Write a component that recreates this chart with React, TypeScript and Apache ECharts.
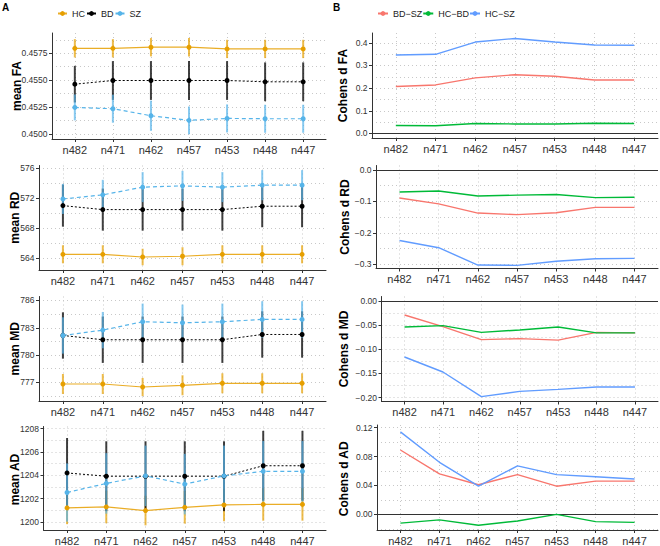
import React, { useEffect, useRef } from 'react';
import * as echarts from 'echarts';

const FONT = '"Liberation Sans", Arial, Helvetica, sans-serif';

const categories = ['n482', 'n471', 'n462', 'n457', 'n453', 'n448', 'n447'];

// ---- Panel A: group means ----
const faHC = [0.45796, 0.45796, 0.45806, 0.45806, 0.4579, 0.4579, 0.4579];
const faBD = [0.45463, 0.45497, 0.45497, 0.45497, 0.45497, 0.45485, 0.45485];
const faSZ = [0.45247, 0.45235, 0.4517, 0.45127, 0.45145, 0.45142, 0.45142];
const faErrHC = [0.00085, 0.00085, 0.00085, 0.00085, 0.00085, 0.00085, 0.00085];
const faErrBD = [0.0017, 0.0018, 0.0018, 0.0018, 0.0018, 0.0018, 0.0018];
const faErrSZ = [0.0012, 0.0013, 0.0014, 0.00128, 0.0013, 0.0013, 0.0013];

const rdHC = [564.53, 564.53, 564.17, 564.27, 564.53, 564.53, 564.53];
const rdBD = [571.01, 570.48, 570.48, 570.48, 570.48, 570.93, 570.93];
const rdSZ = [571.9, 572.44, 573.47, 573.64, 573.47, 573.73, 573.73];
const rdErrHC = [1.2, 1.2, 1.1, 1.2, 1.2, 1.2, 1.2];
const rdErrBD = [2.8, 2.8, 2.8, 2.8, 2.8, 2.8, 2.8];
const rdErrSZ = [2.0, 2.0, 2.0, 2.0, 2.0, 2.0, 2.0];

const mdHC = [776.81, 776.81, 776.48, 776.67, 776.89, 776.89, 776.89];
const mdBD = [782.15, 781.68, 781.68, 781.68, 781.68, 782.26, 782.26];
const mdSZ = [782.15, 782.74, 783.66, 783.55, 783.66, 783.92, 783.92];
const mdErrHC = [1.1, 1.1, 1.0, 1.1, 1.1, 1.1, 1.1];
const mdErrBD = [2.55, 2.55, 2.55, 2.55, 2.55, 2.55, 2.55];
const mdErrSZ = [2.0, 2.0, 2.0, 2.0, 2.0, 2.0, 2.0];

const adHC = [1201.2, 1201.28, 1200.97, 1201.25, 1201.45, 1201.5, 1201.5];
const adBD = [1204.2, 1203.92, 1203.92, 1203.92, 1203.92, 1204.82, 1204.82];
const adSZ = [1202.52, 1203.3, 1203.95, 1203.24, 1203.95, 1204.34, 1204.34];
const adErrHC = [1.4, 1.4, 1.27, 1.4, 1.4, 1.4, 1.4];
const adErrBD = [3.0, 3.0, 3.0, 3.0, 3.0, 3.0, 3.0];
const adErrSZ = [2.5, 2.6, 2.6, 2.6, 2.6, 2.6, 2.6];

// ---- Panel B: Cohen's d ----
const faBDSZ = [0.207, 0.214, 0.245, 0.259, 0.252, 0.236, 0.236];
const faHCBD = [0.035, 0.034, 0.044, 0.042, 0.042, 0.045, 0.044];
const faHCSZ = [0.346, 0.349, 0.403, 0.419, 0.403, 0.39, 0.389];

const rdBDSZ = [-0.089, -0.108, -0.137, -0.142, -0.136, -0.119, -0.119];
const rdHCBD = [-0.07, -0.067, -0.083, -0.08, -0.078, -0.088, -0.087];
const rdHCSZ = [-0.224, -0.247, -0.302, -0.303, -0.29, -0.282, -0.281];

const mdBDSZ = [-0.029, -0.053, -0.08, -0.078, -0.081, -0.065, -0.066];
const mdHCBD = [-0.054, -0.051, -0.065, -0.06, -0.054, -0.066, -0.066];
const mdHCSZ = [-0.116, -0.147, -0.198, -0.187, -0.183, -0.178, -0.178];

const adBDSZ = [0.089, 0.056, 0.041, 0.055, 0.039, 0.046, 0.046];
const adHCBD = [-0.012, -0.0075, -0.015, -0.009, 0.0, -0.01, -0.011];
const adHCSZ = [0.114, 0.072, 0.039, 0.067, 0.055, 0.052, 0.049];

// ---- tick labels ----
const faTicks = [0.45, 0.4525, 0.455, 0.4575];
const faMinor = [0.45125, 0.45375, 0.45625, 0.45875];
const rdTicks = [564, 568, 572, 576];
const rdMinor = [566, 570, 574];
const mdTicks = [777, 780, 783, 786];
const mdMinor = [775.5, 778.5, 781.5, 784.5];
const adTicks = [1200, 1202, 1204, 1206, 1208];
const adMinor = [1201, 1203, 1205, 1207];

const dfaTicks = [0, 0.1, 0.2, 0.3, 0.4];
const dfaMinor = [0.05, 0.15, 0.25, 0.35];
const drdTicks = [-0.3, -0.2, -0.1, 0];
const drdMinor = [-0.25, -0.15, -0.05];
const dmdTicks = [-0.2, -0.15, -0.1, -0.05, 0];
const dmdMinor = [-0.175, -0.125, -0.075, -0.025];
const dadTicks = [0, 0.04, 0.08, 0.12];
const dadMinor = [-0.02, 0.02, 0.06, 0.1];

const groupNames = ['HC', 'BD', 'SZ'];
const groupColors = ['#E69F00', '#000000', '#56B4E9'];
const contrastNames = ['BD\u2212SZ', 'HC\u2212BD', 'HC\u2212SZ'];
const contrastColors = ['#F8766D', '#00BA38', '#619CFF'];

type LeftPanel = {
  title: string; vals: number[][]; errs: number[][];
  min: number; max: number; ticks: number[]; minor: number[]; dec: number;
  left: number; top: number; height: number; titleX: number;
};
type RightPanel = {
  title: string; vals: number[][];
  min: number; max: number; ticks: number[]; minor: number[]; dec: number;
  left: number; top: number; height: number; titleX: number;
};

const leftPanels: LeftPanel[] = [
  { title: 'mean FA', vals: [faHC, faBD, faSZ], errs: [faErrHC, faErrBD, faErrSZ], min: 0.44954, max: 0.45938, ticks: faTicks, minor: faMinor, dec: 4, left: 52, top: 33, height: 106, titleX: 17.3 },
  { title: 'mean RD', vals: [rdHC, rdBD, rdSZ], errs: [rdErrHC, rdErrBD, rdErrSZ], min: 562.44, max: 576.35, ticks: rdTicks, minor: rdMinor, dec: 0, left: 39, top: 165.5, height: 104.5, titleX: 15 },
  { title: 'mean MD', vals: [mdHC, mdBD, mdSZ], errs: [mdErrHC, mdErrBD, mdErrSZ], min: 774.94, max: 786.44, ticks: mdTicks, minor: mdMinor, dec: 0, left: 39, top: 296.5, height: 104.5, titleX: 15 },
  { title: 'mean AD', vals: [adHC, adBD, adSZ], errs: [adErrHC, adErrBD, adErrSZ], min: 1199.3, max: 1208.19, ticks: adTicks, minor: adMinor, dec: 0, left: 43.5, top: 426.5, height: 106, titleX: 15 },
];

const rightPanels: RightPanel[] = [
  { title: 'Cohens d FA', vals: [faBDSZ, faHCBD, faHCSZ], min: -0.02, max: 0.443, ticks: dfaTicks, minor: dfaMinor, dec: 1, left: 372, top: 33, height: 105, titleX: 343 },
  { title: 'Cohens d RD', vals: [rdBDSZ, rdHCBD, rdHCSZ], min: -0.313, max: 0.014, ticks: drdTicks, minor: drdMinor, dec: 1, left: 376, top: 165.5, height: 103, titleX: 344.5 },
  { title: 'Cohens d MD', vals: [mdBDSZ, mdHCBD, mdHCSZ], min: -0.208, max: 0.0092, ticks: dmdTicks, minor: dmdMinor, dec: 2, left: 381.5, top: 296.5, height: 105, titleX: 344 },
  { title: 'Cohens d AD', vals: [adBDSZ, adHCBD, adHCSZ], min: -0.0215, max: 0.1235, ticks: dadTicks, minor: dadMinor, dec: 2, left: 377, top: 425, height: 107.5, titleX: 343.5 },
];

const LEFT_RIGHT_EDGE = 326;
const RIGHT_RIGHT_EDGE = 658;
const idx = categories.map((_, i) => i);

const fmt = (v: number, dec: number) => {
  const s = Math.abs(v) < 1e-12 ? (0).toFixed(dec) : v.toFixed(dec);
  return s.replace('-', '\u2212');
};

function buildOption() {
  const grid: any[] = [];
  const xAxis: any[] = [];
  const yAxis: any[] = [];
  const series: any[] = [];
  const graphic: any[] = [];
  const gridLineStyle = { color: '#c8c8c8', width: 1, type: [1, 3] };

  const all = [
    ...leftPanels.map((p) => ({ ...p, side: 'L' as const })),
    ...rightPanels.map((p) => ({ ...p, side: 'R' as const })),
  ];
  const n = all.length;

  all.forEach((p, i) => {
    const rightEdge = p.side === 'L' ? LEFT_RIGHT_EDGE : RIGHT_RIGHT_EDGE;
    grid.push({ left: p.left, top: p.top, width: rightEdge - p.left, height: p.height });
    xAxis.push({
      type: 'value', gridIndex: i, min: -0.6, max: 6.6,
      axisLine: { show: true, onZero: false, lineStyle: { color: '#333', width: 1 } },
      axisTick: { show: true, length: 3, customValues: idx, lineStyle: { color: '#333' } },
      axisLabel: {
        customValues: idx, formatter: (v: number) => categories[Math.round(v)] ?? '',
        fontSize: 11, color: '#333', margin: 5, fontFamily: FONT,
      },
      splitLine: { show: true, lineStyle: gridLineStyle },
    });
    yAxis[i] = {
      type: 'value', gridIndex: i, min: p.min, max: p.max, position: 'left',
      axisLine: { show: true, onZero: false, lineStyle: { color: '#333', width: 1 } },
      axisTick: { show: true, length: 3, customValues: p.ticks, lineStyle: { color: '#333' } },
      axisLabel: {
        customValues: p.ticks, formatter: (v: number) => fmt(v, p.dec),
        fontSize: 8.5, color: '#333', margin: 4.5, fontFamily: FONT,
      },
      splitLine: { show: false },
    };
    yAxis[n + i] = {
      type: 'value', gridIndex: i, min: p.min, max: p.max, position: 'left',
      axisLine: { show: false }, axisLabel: { show: false },
      axisTick: { show: false, customValues: [...p.ticks, ...p.minor] },
      splitLine: { show: true, lineStyle: gridLineStyle },
    };

    graphic.push({
      type: 'text', x: p.titleX, y: p.top + p.height / 2, rotation: Math.PI / 2,
      style: { text: p.title, font: `bold 12px ${FONT}`, fill: '#000', align: 'center', verticalAlign: 'middle' },
    });

    if (p.side === 'L') {
      const lp = p as any as LeftPanel;
      // error bars
      groupNames.forEach((g, k) => {
        const color = groupColors[k];
        const v = lp.vals[k];
        const e = lp.errs[k];
        series.push({
          type: 'custom', xAxisIndex: i, yAxisIndex: i, z: 2,
          silent: true,
          data: v.map((m, j) => [j, m - e[j], m + e[j]]),
          encode: { x: 0, y: [1, 2] },
          renderItem: (_params: any, api: any) => {
            const x = api.value(0);
            const p1 = api.coord([x, api.value(1)]);
            const p2 = api.coord([x, api.value(2)]);
            return {
              type: 'line',
              shape: { x1: p1[0], y1: p1[1], x2: p2[0], y2: p2[1] },
              style: { stroke: color, lineWidth: 2, opacity: k === 1 ? 0.75 : 0.7 },
            };
          },
        });
      });
      groupNames.forEach((g, k) => {
        series.push({
          type: 'line', name: g, xAxisIndex: i, yAxisIndex: i, z: 3,
          data: lp.vals[k].map((m, j) => [j, m]),
          symbol: 'circle', symbolSize: 5, showSymbol: true,
          itemStyle: { color: groupColors[k] },
          lineStyle: {
            color: groupColors[k], width: k === 1 ? 1 : 1.2,
            type: k === 0 ? 'solid' : k === 1 ? [2, 2] : [4, 3],
            opacity: k === 0 ? 0.85 : 1,
          },
        });
      });
    } else {
      const rp = p as any as RightPanel;
      contrastNames.forEach((c, k) => {
        series.push({
          type: 'line', name: c, xAxisIndex: i, yAxisIndex: i, z: 3,
          data: rp.vals[k].map((m, j) => [j, m]),
          symbol: 'none', showSymbol: false,
          itemStyle: { color: contrastColors[k] },
          lineStyle: { color: contrastColors[k], width: 1.4, type: 'solid' },
          markLine: k === 0 ? {
            silent: true, symbol: 'none', label: { show: false }, z: 2,
            lineStyle: { color: '#333', width: 1, type: 'solid' },
            data: [{ yAxis: 0 }],
          } : undefined,
        });
      });
    }
  });

  graphic.push({ type: 'text', x: 2, y: 2, style: { text: 'A', font: `bold 10px ${FONT}`, fill: '#000' } });
  graphic.push({ type: 'text', x: 333, y: 2, style: { text: 'B', font: `bold 10px ${FONT}`, fill: '#000' } });

  return {
    animation: false,
    backgroundColor: '#ffffff',
    grid, xAxis, yAxis, series, graphic,
    legend: [
      {
        data: groupNames, left: 57, top: 9, padding: 0, itemGap: 1, itemWidth: 9, itemHeight: 6,
        lineStyle: { type: 'solid' },
        textStyle: { fontSize: 9, color: '#222', fontFamily: FONT },
        selectedMode: false,
      },
      {
        data: contrastNames, left: 377, top: 9, padding: 0, itemGap: 0, itemWidth: 10, itemHeight: 6,
        textStyle: { fontSize: 9, color: '#222', fontFamily: FONT },
        selectedMode: false,
      },
    ],
  };
}

export default function App() {
  const ref = useRef<HTMLDivElement>(null);
  useEffect(() => {
    if (!ref.current) return;
    const chart = echarts.init(ref.current, undefined, { renderer: 'svg' });
    chart.setOption(buildOption() as any);
    return () => chart.dispose();
  }, []);
  return (
    <div
      ref={ref}
      style={{ position: 'absolute', left: 0, top: 0, width: 660, height: 546, background: '#fff' }}
    />
  );
}
